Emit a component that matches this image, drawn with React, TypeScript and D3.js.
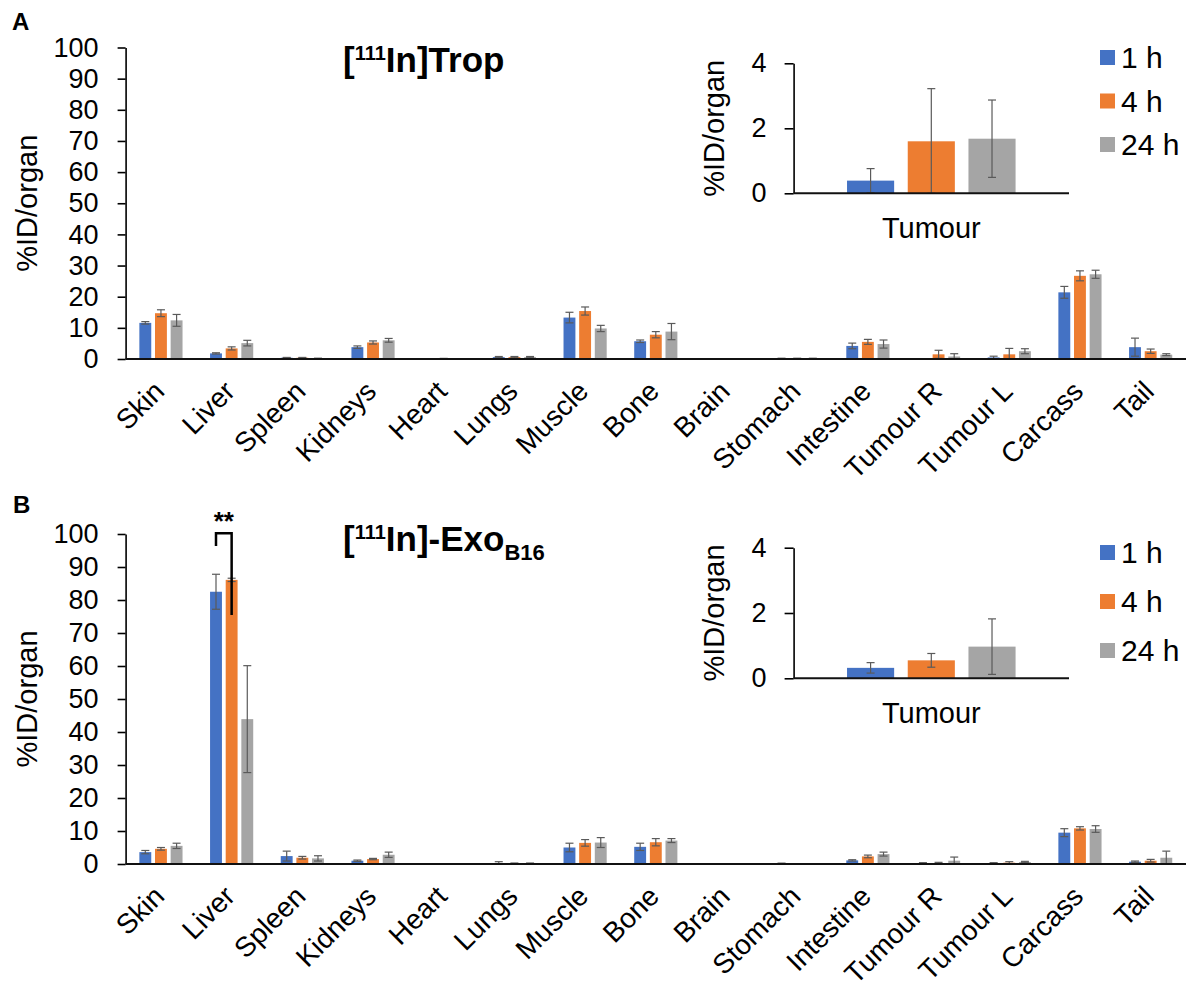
import React, { useEffect, useRef } from "react";
import * as d3 from "d3";

// ---------- DATA ----------
const categories = ["Skin", "Liver", "Spleen", "Kidneys", "Heart", "Lungs", "Muscle", "Bone", "Brain", "Stomach", "Intestine", "Tumour R", "Tumour L", "Carcass", "Tail"];
const seriesLabels = ["1 h", "4 h", "24 h"];
const seriesColors = ["#4472C4", "#ED7D31", "#A5A5A5"];
const mainTicks = [0, 10, 20, 30, 40, 50, 60, 70, 80, 90, 100];
const insetTicks = [0, 2, 4];
const insetCategory = ["Tumour"];

// Panel A: [111In]Trop
const tropMean1h = [11.6, 1.8, 0.4, 3.8, 0.05, 0.6, 13.3, 5.7, 0, 0.15, 4.2, 0.05, 0.5, 21.4, 3.8];
const tropErr1h = [0.4, 0.2, 0.1, 0.4, 0.05, 0.2, 1.7, 0.4, 0, 0.1, 0.9, 0.05, 0.4, 1.9, 2.9];
const tropMean4h = [14.7, 3.4, 0.4, 5.3, 0.1, 0.6, 15.4, 7.8, 0, 0.15, 5.5, 1.5, 1.5, 26.7, 2.5];
const tropErr4h = [1.1, 0.5, 0.1, 0.5, 0.1, 0.2, 1.3, 1.0, 0, 0.1, 0.8, 1.3, 1.9, 1.6, 0.7];
const tropMean24h = [12.4, 5.1, 0.2, 6.0, 0.03, 0.6, 9.8, 8.8, 0, 0.15, 4.8, 0.8, 2.5, 27.2, 1.4];
const tropErr24h = [1.9, 0.9, 0.05, 0.6, 0.03, 0.2, 1.0, 2.6, 0, 0.1, 1.3, 0.9, 0.8, 1.3, 0.3];
const tropTumourMean = [0.39, 1.6, 1.68];
const tropTumourErr = [0.37, 1.62, 1.19];

// Panel B: [111In]-Exo B16
const exoMean1h = [3.6, 82.5, 2.4, 1.0, 0, 0.3, 5.0, 5.2, 0, 0.2, 1.1, 0.3, 0.3, 9.5, 0.7];
const exoErr1h = [0.5, 5.3, 1.5, 0.2, 0, 0.4, 1.3, 1.1, 0, 0.05, 0.2, 0.1, 0.1, 1.2, 0.2];
const exoMean4h = [4.6, 86.1, 1.9, 1.5, 0, 0.2, 6.4, 6.6, 0, 0.05, 2.3, 0.3, 0.4, 10.8, 1.0];
const exoErr4h = [0.4, 0.5, 0.4, 0.2, 0, 0.1, 1.0, 1.1, 0, 0.05, 0.4, 0.2, 0.3, 0.5, 0.4];
const exoMean24h = [5.5, 43.9, 1.7, 2.8, 0, 0.2, 6.5, 7.1, 0, 0.05, 3.0, 1.0, 0.6, 10.6, 1.9];
const exoErr24h = [0.8, 16.2, 0.8, 0.8, 0, 0.1, 1.5, 0.6, 0, 0.05, 0.6, 1.1, 0.2, 1.0, 2.0];
const exoTumourMean = [0.32, 0.55, 0.97];
const exoTumourErr = [0.16, 0.21, 0.85];

const FONT = "'Liberation Sans', Arial, Helvetica, sans-serif";
const ERR_COLOR = "#5a5a5a";

type Layout = { left: number; right: number; top: number; bottom: number };

function useAxis(ref: React.RefObject<SVGGElement>, y: d3.ScaleLinear<number, number>, ticks: number[], fontSize: number, tickSize: number, pad: number) {
  useEffect(() => {
    if (!ref.current) return;
    const g = d3.select(ref.current);
    g.selectAll("*").remove();
    g.call(d3.axisLeft(y).tickValues(ticks).tickSize(tickSize).tickSizeOuter(0).tickPadding(pad).tickFormat(d3.format("d")) as any);
    g.attr("font-family", FONT).attr("font-size", fontSize);
    g.select(".domain").attr("stroke", "#000").attr("stroke-width", 1.6);
    g.selectAll(".tick line").attr("stroke", "#000").attr("stroke-width", 1.6);
    g.selectAll(".tick text").attr("fill", "#000");
  }, []);
}

function BarGroup({ x0, x1, y, cats, means, errs }: any) {
  return (
    <g>
      {cats.map((c: string, ci: number) =>
        seriesLabels.map((s, si) => {
          const v = means[si][ci];
          const e = errs[si][ci];
          const cx = (x0(c) as number) + (x1(s) as number) + x1.bandwidth() / 2;
          const bx = (x0(c) as number) + (x1(s) as number);
          const hi = y(v + e);
          const lo = y(Math.max(0, v - e));
          return (
            <g key={c + s}>
              {v > 0 && (
                <rect x={bx} y={y(v)} width={x1.bandwidth()} height={y(0) - y(v)} fill={seriesColors[si]} />
              )}
              {e > 0 && (
                <g stroke={ERR_COLOR} strokeWidth={1.2}>
                  <line x1={cx} x2={cx} y1={hi} y2={lo} />
                  <line x1={cx - 4} x2={cx + 4} y1={hi} y2={hi} />
                  <line x1={cx - 4} x2={cx + 4} y1={lo} y2={lo} />
                </g>
              )}
            </g>
          );
        })
      )}
    </g>
  );
}

function MainPanel({ L, means, errs, children }: any) {
  const axisRef = useRef<SVGGElement>(null);
  const x0 = d3.scaleBand<string>().domain(categories).range([L.left, L.right]).paddingInner(0).paddingOuter(0);
  const x1 = d3.scaleBand<string>().domain(seriesLabels).range([0, x0.bandwidth()]).paddingInner(0.24).paddingOuter(0.88);
  const y = d3.scaleLinear().domain([0, 100]).range([L.bottom, L.top]);
  useAxis(axisRef, y, mainTicks, 27, 8, 19);
  return (
    <g>
      <BarGroup x0={x0} x1={x1} y={y} cats={categories} means={means} errs={errs} />
      <g ref={axisRef} transform={`translate(${L.left},0)`} />
      <line x1={L.left} x2={L.right} y1={y(0)} y2={y(0)} stroke="#111" strokeWidth={2} />
      {categories.map((c) => {
        const px = (x0(c) as number) + x0.bandwidth() / 2 + 5;
        const py = y(0) + 34;
        return (
          <text key={c} x={px} y={py} transform={`rotate(-45,${px},${py})`} textAnchor="end" fontFamily={FONT} fontSize={28} fill="#000">
            {c}
          </text>
        );
      })}
      <text transform={`translate(27,${(L.top + L.bottom) / 2}) rotate(-90)`} textAnchor="middle" dominantBaseline="central" fontFamily={FONT} fontSize={29} fill="#000">
        %ID/organ
      </text>
      {children && children(x0, x1, y)}
    </g>
  );
}

function InsetPanel({ L, means, errs, legendY }: any) {
  const axisRef = useRef<SVGGElement>(null);
  const x0 = d3.scaleBand<string>().domain(insetCategory).range([L.left, L.right]);
  const x1 = d3.scaleBand<string>().domain(seriesLabels).range([0, x0.bandwidth()]).paddingInner(0.224).paddingOuter(0.88);
  const y = d3.scaleLinear().domain([0, 4]).range([L.bottom, L.top]);
  useAxis(axisRef, y, insetTicks, 27, 9, 18);
  const m = means.map((v: number) => [v]);
  const e = errs.map((v: number) => [v]);
  return (
    <g>
      <BarGroup x0={x0} x1={x1} y={y} cats={insetCategory} means={m} errs={e} />
      <g ref={axisRef} transform={`translate(${L.left},0)`} />
      <line x1={L.left} x2={L.right} y1={y(0)} y2={y(0)} stroke="#111" strokeWidth={2} />
      <text x={(x0("Tumour") as number) + x0.bandwidth() / 2} y={y(0) + 45} textAnchor="middle" fontFamily={FONT} fontSize={29} fill="#000">
        {insetCategory[0]}
      </text>
      <text transform={`translate(714,${(L.top + L.bottom) / 2}) rotate(-90)`} textAnchor="middle" dominantBaseline="central" fontFamily={FONT} fontSize={29} fill="#000">
        %ID/organ
      </text>
      {seriesLabels.map((s, i) => (
        <g key={s}>
          <rect x={1100} y={legendY[i] - 7.5} width={15} height={15} fill={seriesColors[i]} />
          <text x={1121} y={legendY[i]} dominantBaseline="central" fontFamily={FONT} fontSize={30} fill="#000">
            {s}
          </text>
        </g>
      ))}
    </g>
  );
}

export default function App() {
  const LA: Layout = { left: 125.6, right: 1186, top: 47.5, bottom: 359 };
  const LB: Layout = { left: 125.6, right: 1186, top: 534, bottom: 864 };
  const IA: Layout = { left: 793.6, right: 1069, top: 63.3, bottom: 193.3 };
  const IB: Layout = { left: 793.6, right: 1069, top: 547.7, bottom: 678.3 };
  return (
    <div style={{ position: "absolute", left: 0, top: 0 }}>
      <svg width={1191} height={989} style={{ display: "block", background: "#fff" }}>
        <rect width={1191} height={989} fill="#fff" />
        <text x={12} y={30} fontFamily={FONT} fontWeight="bold" fontSize={24}>A</text>
        <text x={13} y={513} fontFamily={FONT} fontWeight="bold" fontSize={24}>B</text>

        <MainPanel L={LA} means={[tropMean1h, tropMean4h, tropMean24h]} errs={[tropErr1h, tropErr4h, tropErr24h]} />
        <text x={343} y={72} fontFamily={FONT} fontWeight="bold" fontSize={35} fill="#000">
          [<tspan fontSize={20} dy={-12}>111</tspan>
          <tspan dy={12}>In]Trop</tspan>
        </text>
        <InsetPanel L={IA} means={tropTumourMean} errs={tropTumourErr} legendY={[57.5, 101, 144.5]} />

        <MainPanel
          L={LB}
          means={[exoMean1h, exoMean4h, exoMean24h]}
          errs={[exoErr1h, exoErr4h, exoErr24h]}
        >
          {(x0: any, x1: any, y: any) => {
            const xa = x0("Liver") + x1("1 h") + x1.bandwidth() / 2;
            const xb = x0("Liver") + x1("4 h") + x1.bandwidth() / 2;
            return (
              <g>
                <path d={`M${xa},${y(0) - 318} V${y(0) - 330.7} H${xb} V${y(0) - 249}`} fill="none" stroke="#000" strokeWidth={2.5} />
                <text x={(xa + xb) / 2} y={y(0) - 334} textAnchor="middle" fontFamily={FONT} fontWeight="bold" fontSize={26}>**</text>
              </g>
            );
          }}
        </MainPanel>
        <text x={343} y={551} fontFamily={FONT} fontWeight="bold" fontSize={35} fill="#000">
          [<tspan fontSize={20} dy={-12}>111</tspan>
          <tspan dy={12}>In]-Exo</tspan>
          <tspan fontSize={22} dy={9}>B16</tspan>
        </text>
        <InsetPanel L={IB} means={exoTumourMean} errs={exoTumourErr} legendY={[552.5, 601.5, 650.5]} />
      </svg>
    </div>
  );
}
